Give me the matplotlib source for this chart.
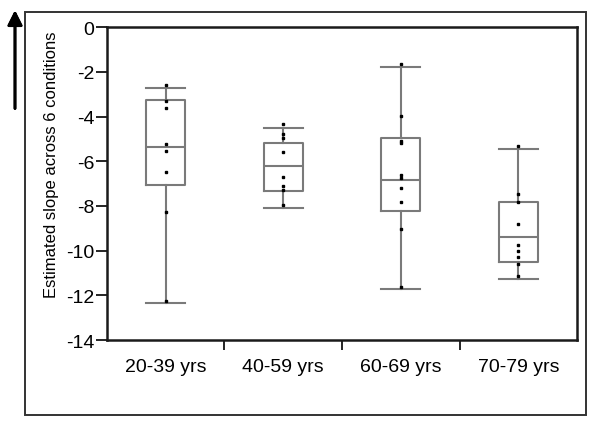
import matplotlib.pyplot as plt
from matplotlib.patches import Rectangle

plt.rcParams['font.family'] = ['Liberation Sans', 'DejaVu Sans']

# age groups and box statistics
groups = ['20-39 yrs', '40-59 yrs', '60-69 yrs', '70-79 yrs']
whisker_hi = [-2.71, -4.50, -1.76, -5.43]
q3 = [-3.26, -5.17, -4.96, -7.81]
median = [-5.35, -6.22, -6.83, -9.39]
q1 = [-7.07, -7.35, -8.24, -10.50]
whisker_lo = [-12.36, -8.08, -11.72, -11.27]

# individual participant slopes per group
points_2039 = [-2.58, -3.31, -3.61, -5.25, -5.55, -6.48, -8.27, -12.25]
points_4059 = [-4.35, -4.79, -4.95, -5.57, -6.71, -7.12, -7.28, -7.98]
points_6069 = [-1.65, -3.99, -5.10, -5.17, -6.62, -6.74, -7.19, -7.81, -9.05, -11.61]
points_7079 = [-5.31, -7.48, -7.84, -8.82, -9.75, -10.02, -10.29, -10.61, -11.15]
points = [points_2039, points_4059, points_6069, points_7079]

y_ticks = list(range(-14, 1, 2))

fig = plt.figure(figsize=(6, 4.27), dpi=100)
ax = fig.add_axes([0.178, 0.2014, 0.784, 0.7326])

stats = []
for i, name in enumerate(groups):
    stats.append({
        'label': name,
        'whislo': whisker_lo[i],
        'q1': q1[i],
        'med': median[i],
        'q3': q3[i],
        'whishi': whisker_hi[i],
        'fliers': [],
    })

pos = range(1, len(groups) + 1)
grey = '#7a7a7a'
line = dict(color=grey, linewidth=1.5)
ax.bxp(stats, positions=pos, widths=0.33, showfliers=False,
       boxprops=line, whiskerprops=line, capprops=line, medianprops=line,
       capwidths=0.33, manage_ticks=False)

for p, vals in zip(pos, points):
    ax.plot([p] * len(vals), vals, 's', color='black', markersize=2.1, zorder=5)

ax.set_xlim(0.5, len(groups) + 0.5)
ax.set_ylim(-14, 0)
ax.set_yticks(y_ticks)
ax.set_yticklabels([str(t) for t in y_ticks])

# category separators as major ticks, labels on minor ticks
ax.set_xticks([1.5, 2.5, 3.5])
ax.set_xticklabels([])
ax.set_xticks(list(pos), minor=True)
ax.set_xticklabels(groups, minor=True)
ax.tick_params(axis='x', which='major', direction='out', length=7, width=1.2)
ax.tick_params(axis='x', which='minor', length=0, pad=13, labelsize=14)
ax.tick_params(axis='y', direction='out', length=8, width=1.2, labelsize=14, pad=1)

for s in ax.spines.values():
    s.set_linewidth(1.8)
    s.set_color('#1a1a1a')

ax.set_ylabel('Estimated slope across 6 conditions', fontsize=12)
ax.yaxis.set_label_coords(-0.102, 0.562)

# outer frame around the whole panel
fig.patches.append(Rectangle((0.0417, 0.0258), 0.935, 0.944, transform=fig.transFigure,
                             fill=False, edgecolor='#333333', linewidth=1.4))

# upward arrow on the left
fig.add_artist(plt.annotate('', xy=(0.025, 0.98), xytext=(0.025, 0.737),
                            xycoords='figure fraction', textcoords='figure fraction',
                            arrowprops=dict(arrowstyle='-|>', color='black', lw=2.0,
                                            mutation_scale=22)))

fig.savefig('out.png', dpi=100)
